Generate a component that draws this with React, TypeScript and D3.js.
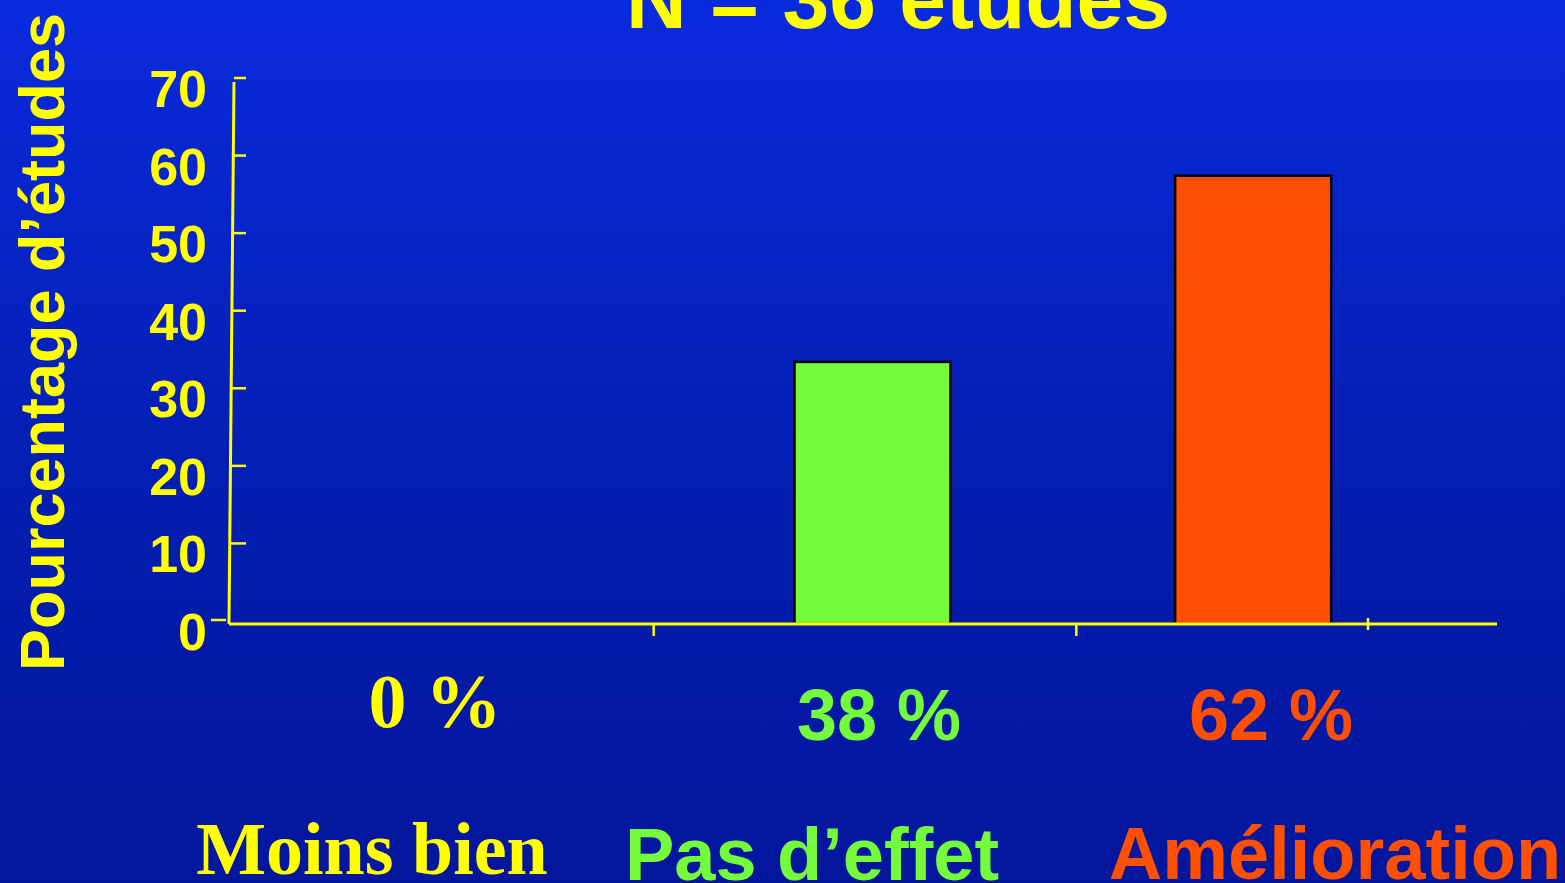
import React from "react";
import * as d3 from "d3";

const categories = ["Moins bien", "Pas d’effet", "Amélioration"];
const barValues = [0, 33.4, 57.4];
const percentLabels = ["0 %", "38 %", "62 %"];
const yTicks = [0, 10, 20, 30, 40, 50, 60, 70];
const title = "N = 36 études";
const yTitle = "Pourcentage d’études";

const W = 1565;
const H = 883;
const YELLOW = "#ffff00";
const catColors = [YELLOW, "#74fb3c", "#ff4f00"];
const catFonts = ["'Liberation Serif', 'Times New Roman', serif", "'Liberation Sans', Arial, sans-serif", "'Liberation Sans', Arial, sans-serif"];
const labelX = [372, 812, 1335];
const pctBaseline = [727, 740, 740];
const catBaseline = [874, 880, 879];

export default function App() {
  const y = d3.scaleLinear().domain([0, 70]).range([621, 78]);
  const axisX = d3.scaleBand<string>().domain(categories).range([229, 1497]);
  const barX = d3.scaleBand<string>().domain(categories).range([301.5, 1443.5]);
  const barW = 156;
  const axisY = 624;
  const sans = "'Liberation Sans', Arial, sans-serif";
  const pctX = [435, 879, 1271];

  return (
    <svg width={W} height={H} style={{ position: "absolute", left: 0, top: 0, display: "block" }}>
      <defs>
        <linearGradient id="bg" x1="0" y1="0" x2="0" y2="1">
          <stop offset="0" stopColor="#0a2ade" />
          <stop offset="0.5" stopColor="#041fb4" />
          <stop offset="1" stopColor="#03169c" />
        </linearGradient>
      </defs>
      <rect x={0} y={0} width={W} height={H} fill="url(#bg)" />

      <text x={898} y={28} textAnchor="middle" fill={YELLOW} fontFamily={sans} fontWeight="bold" fontSize={84}>
        {title}
      </text>

      <text
        transform={`translate(64,342) rotate(-90)`}
        textAnchor="middle"
        fill={YELLOW}
        fontFamily={sans}
        fontWeight="bold"
        fontSize={63}
      >
        {yTitle}
      </text>

      {/* y axis */}
      <line x1={234} y1={82} x2={229} y2={axisY} stroke={YELLOW} strokeWidth={3} />
      {yTicks.map((t) => (
        <g key={t}>
          {t === 0 ? (
            <line x1={211} x2={226} y1={y(t) - 1} y2={y(t) - 1} stroke={YELLOW} strokeWidth={2.5} />
          ) : (
            <line x1={234 - (5 * (y(t) - 82)) / (axisY - 82)} x2={246} y1={y(t)} y2={y(t)} stroke={YELLOW} strokeWidth={2.5} />
          )}
          <text x={207} y={y(t) + 29} textAnchor="end" fill={YELLOW} fontFamily={sans} fontWeight="bold" fontSize={52}>
            {t}
          </text>
        </g>
      ))}

      {/* bars */}
      {categories.map((c, i) =>
        barValues[i] > 0 ? (
          <rect
            key={c}
            x={(barX(c) as number) + barX.bandwidth() / 2 - barW / 2}
            y={y(barValues[i])}
            width={barW}
            height={axisY - y(barValues[i])}
            fill={catColors[i]}
            stroke="#000"
            strokeWidth={2.5}
          />
        ) : null
      )}

      {/* x axis */}
      <line x1={229} x2={1497} y1={axisY} y2={axisY} stroke={YELLOW} strokeWidth={3} />
      {categories.slice(1).map((c) => (
        <line key={c} x1={(axisX(c) as number) + 2} x2={(axisX(c) as number) + 2} y1={axisY} y2={axisY + 12} stroke={YELLOW} strokeWidth={2.5} />
      ))}
      <line x1={1368} x2={1368} y1={axisY - 6} y2={axisY + 6} stroke={YELLOW} strokeWidth={2.5} />

      {/* percent labels */}
      {percentLabels.map((p, i) => (
        <text
          key={p}
          x={pctX[i]}
          y={pctBaseline[i]}
          textAnchor="middle"
          fill={catColors[i]}
          fontFamily={catFonts[i]}
          fontWeight="bold"
          fontSize={i === 0 ? 76 : 72}
        >
          {p}
        </text>
      ))}

      {/* category labels */}
      {categories.map((c, i) => (
        <text
          key={c}
          x={labelX[i]}
          y={catBaseline[i]}
          textAnchor="middle"
          fill={catColors[i]}
          fontFamily={catFonts[i]}
          fontWeight="bold"
          fontSize={74}
        >
          {c}
        </text>
      ))}
    </svg>
  );
}
